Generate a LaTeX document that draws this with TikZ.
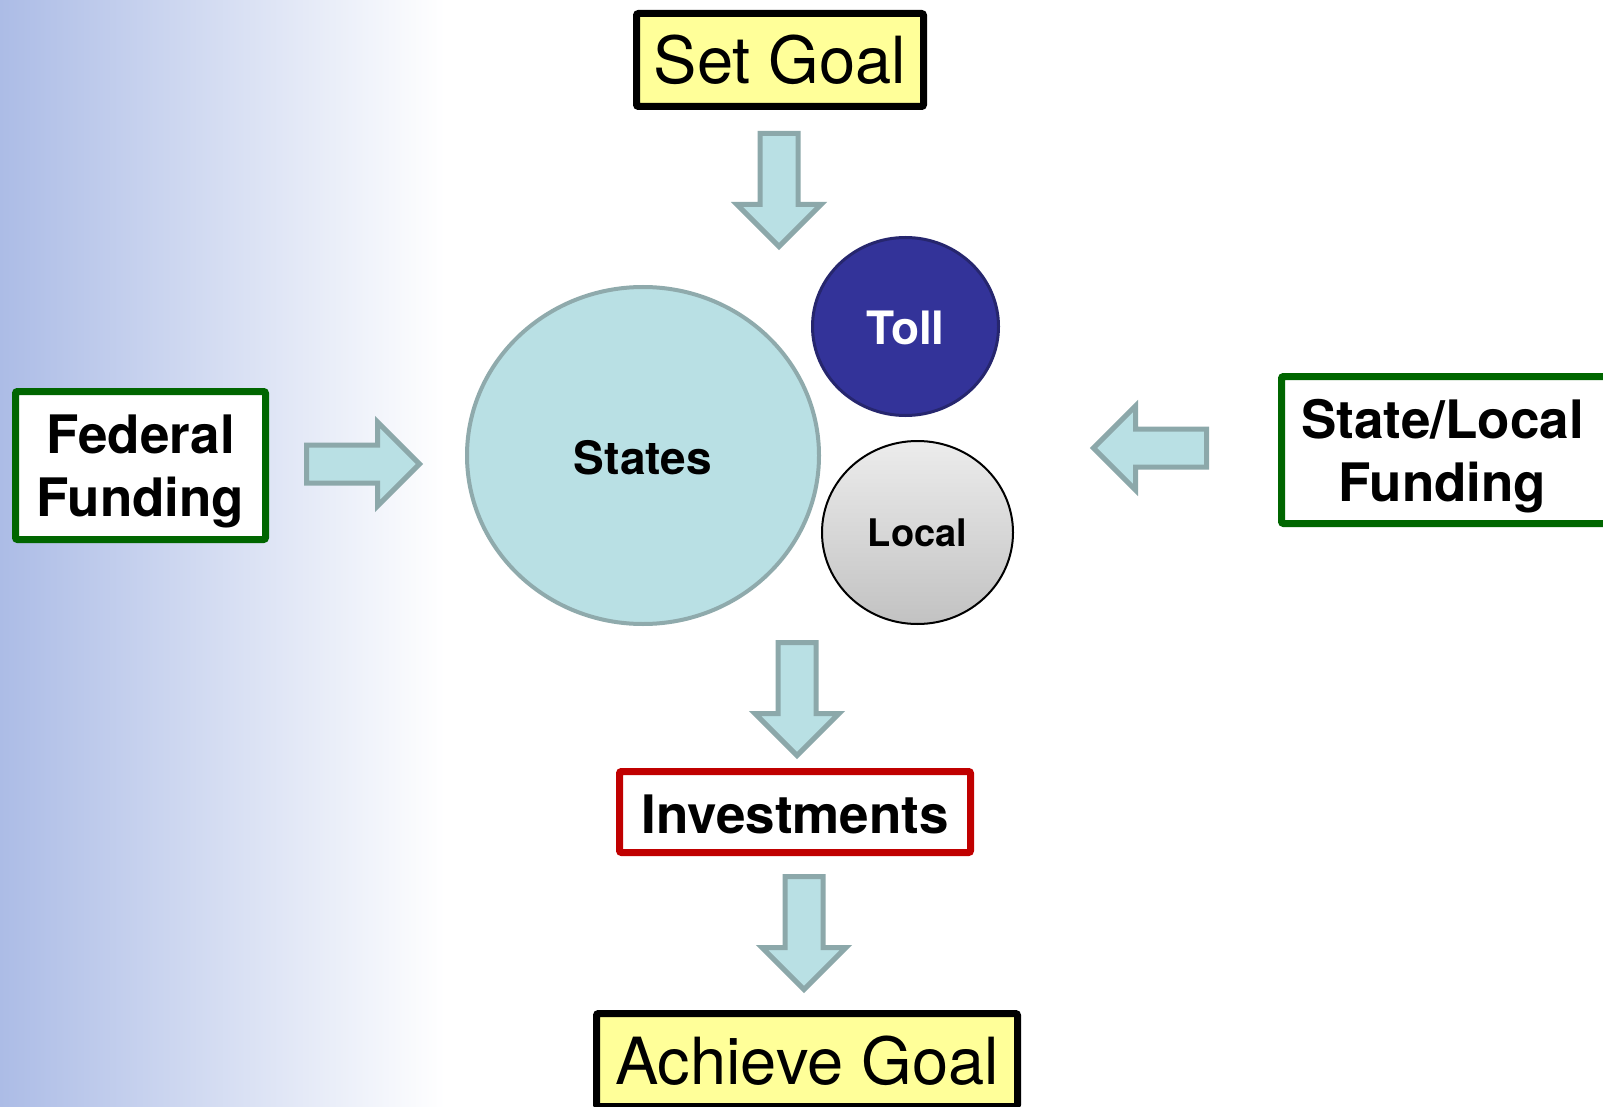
\documentclass[tikz,border=0pt]{standalone}
\usepackage{fontspec}
\setmainfont{TeX Gyre Heros}
\usetikzlibrary{shapes.geometric}
\definecolor{bgblue}{RGB}{172,188,230}
\definecolor{arrfill}{RGB}{185,224,228}
\definecolor{arrline}{RGB}{140,168,170}
\definecolor{goalyellow}{RGB}{255,255,153}
\definecolor{fundgreen}{RGB}{0,102,0}
\definecolor{invred}{RGB}{192,0,0}
\definecolor{tollblue}{RGB}{51,51,153}
\definecolor{tolledge}{RGB}{38,38,110}
\definecolor{statefill}{RGB}{185,224,228}
\definecolor{stateline}{RGB}{143,170,172}
\definecolor{localtop}{RGB}{236,236,236}
\definecolor{localbot}{RGB}{194,194,194}
\begin{document}
\begin{tikzpicture}[x=1pt,y=-1pt,
  goalbox/.style={draw=black, fill=goalyellow, line width=7pt, rounded corners=2pt,
    inner sep=0pt, text height=48pt, text depth=0pt, font=\fontsize{65}{78}\selectfont},
  fundbox/.style={draw=fundgreen, fill=white, line width=7pt, rounded corners=2pt, inner sep=0pt},
  invbox/.style={draw=invred, fill=white, line width=7pt, rounded corners=2pt,
    inner sep=0pt, text height=42pt, text depth=0pt, font=\bfseries\fontsize{53}{63}\selectfont},
  fundtext/.style={align=center, inner sep=0pt, font=\bfseries\fontsize{53}{63}\selectfont},
  bubble/.style={ellipse, inner sep=0pt, text depth=0pt, font=\bfseries},
  arrowshape/.style={fill=arrfill, draw=arrline, line width=5pt, line join=miter},
  blockarrow/.pic={\draw[arrowshape] (0,-19) -- (71,-19) -- (71,-42) -- (113,0) -- (71,42) -- (71,19) -- (0,19) -- cycle;}
]
\useasboundingbox (0,0) rectangle (1603,1107);
\fill[white] (0,0) rectangle (1603,1107);
\shade[left color=bgblue, right color=white] (0,0) rectangle (445,1107);

% goal boxes
\node[goalbox, minimum width=287pt, minimum height=93pt] (setgoal) at (780,60) {Set Goal};
\node[goalbox, minimum width=421pt, minimum height=93pt] (achieve) at (807,1060) {Achieve Goal};

% funding boxes
\node[fundbox, minimum width=250pt, minimum height=148pt] (federal) at (140.5,465.5) {};
\node[fundtext, anchor=base] (federaltext) at (140.5,516) {Federal\\Funding};
\node[fundbox, minimum width=325pt, minimum height=147pt] (statelocal) at (1444,450) {};
\node[fundtext, anchor=base] (statelocaltext) at (1442.5,501) {State/Local\\Funding};

% investments
\node[invbox, minimum width=351pt, minimum height=81pt] (invest) at (795,812) {Investments};

% bubbles
\node[bubble, fill=statefill, draw=stateline, line width=4pt, minimum width=352pt, minimum height=337pt,
  text height=37pt, font=\bfseries\fontsize{46}{55}\selectfont] (states) at (643,455.5) {States};
\node[bubble, fill=tollblue, draw=tolledge, line width=3pt, minimum width=186pt, minimum height=178pt,
  text height=35pt, text=white, font=\bfseries\fontsize{46}{55}\selectfont] (toll) at (905.5,326.5) {Toll};
\node[bubble, top color=localtop, bottom color=localbot, draw=black, line width=2pt, minimum width=191pt, minimum height=183pt,
  text height=28pt, font=\bfseries\fontsize{38}{46}\selectfont] (local) at (917.5,532.5) {Local};

% block arrows
\pic[rotate=-90] at (779,133.5) {blockarrow};
\pic[rotate=-90] at (797,642.5) {blockarrow};
\pic[rotate=-90] at (804,876.5) {blockarrow};
\pic at (306.5,464) {blockarrow};
\pic[rotate=180] at (1206.5,448) {blockarrow};
\end{tikzpicture}
\end{document}
